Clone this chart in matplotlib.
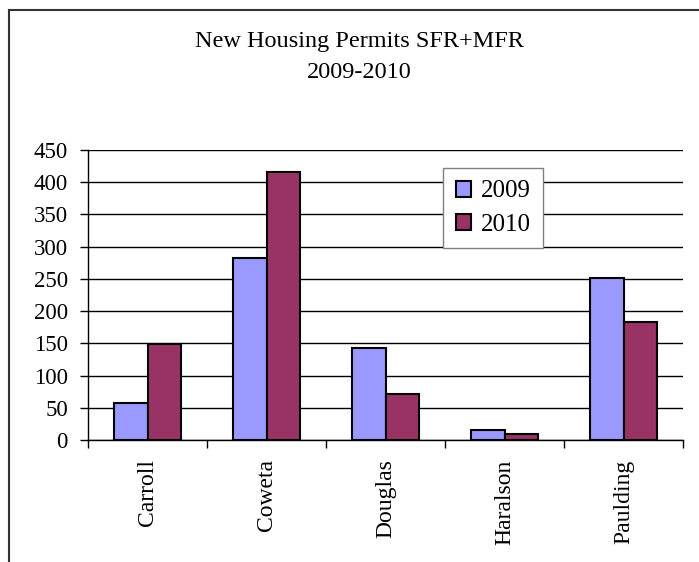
import matplotlib.pyplot as plt
from matplotlib.lines import Line2D
import numpy as np

plt.rcParams['font.family'] = ['Liberation Serif', 'DejaVu Serif']

counties = ["Carroll", "Coweta", "Douglas", "Haralson", "Paulding"]
permits_2009 = [58, 282, 142, 15, 252]
permits_2010 = [149, 416, 71, 9, 183]
years = ["2009", "2010"]
colors = ["#9999FF", "#993366"]

fig = plt.figure(figsize=(6.99, 5.62), dpi=100)
ax = fig.add_axes([88 / 699, 1 - 440 / 562, 595 / 699, 290 / 562])

x = np.arange(len(counties))
w = 0.285
ax.bar(x - w / 2, permits_2009, w, color=colors[0], edgecolor="black",
       linewidth=1.5, zorder=3, label=years[0])
ax.bar(x + w / 2, permits_2010, w, color=colors[1], edgecolor="black",
       linewidth=1.5, zorder=3, label=years[1])

ax.set_xlim(-0.5, len(counties) - 0.5)
ax.set_ylim(0, 450)
ax.set_yticks(np.arange(0, 451, 50))
ax.yaxis.grid(True, color="black", linewidth=1.0)
ax.set_axisbelow(True)
for s in ["top", "right"]:
    ax.spines[s].set_visible(False)
ax.spines["left"].set_linewidth(1.0)
ax.spines["bottom"].set_linewidth(1.0)

# category labels centered, ticks at category boundaries
ax.set_xticks(x)
ax.set_xticklabels(counties, rotation=90, fontsize=17)
ax.tick_params(axis="x", length=0, pad=14)
ax.set_xticks(np.arange(-0.5, len(counties)), minor=True)
ax.tick_params(axis="x", which="minor", length=6, width=1.0)
ax.tick_params(axis="y", length=5.5, width=1.0, labelsize=16.5, pad=9)

fig.text(359 / 699, 1 - 42 / 562, "New Housing Permits SFR+MFR", ha="center",
         va="center", fontsize=17.5)
fig.text(359 / 699, 1 - 73 / 562, "2009-2010", ha="center", va="center",
         fontsize=17.5)

leg = ax.legend(loc="upper left", bbox_to_anchor=(443 / 699, 1 - 168 / 562),
                bbox_transform=fig.transFigure, fontsize=18, frameon=True,
                fancybox=False, edgecolor="#808080", framealpha=1,
                handlelength=0.6, handleheight=0.6, handletextpad=0.4,
                labelspacing=0.45, borderpad=0.5, borderaxespad=0)
leg.get_frame().set_linewidth(1.0)

# outer chart border (top and left)
fig.add_artist(Line2D([9 / 699, 1], [1 - 10 / 562] * 2, color="#333333",
                      linewidth=1.5, transform=fig.transFigure))
fig.add_artist(Line2D([9 / 699] * 2, [0, 1 - 10 / 562], color="#333333",
                      linewidth=1.5, transform=fig.transFigure))

fig.savefig("out.png", dpi=100)
